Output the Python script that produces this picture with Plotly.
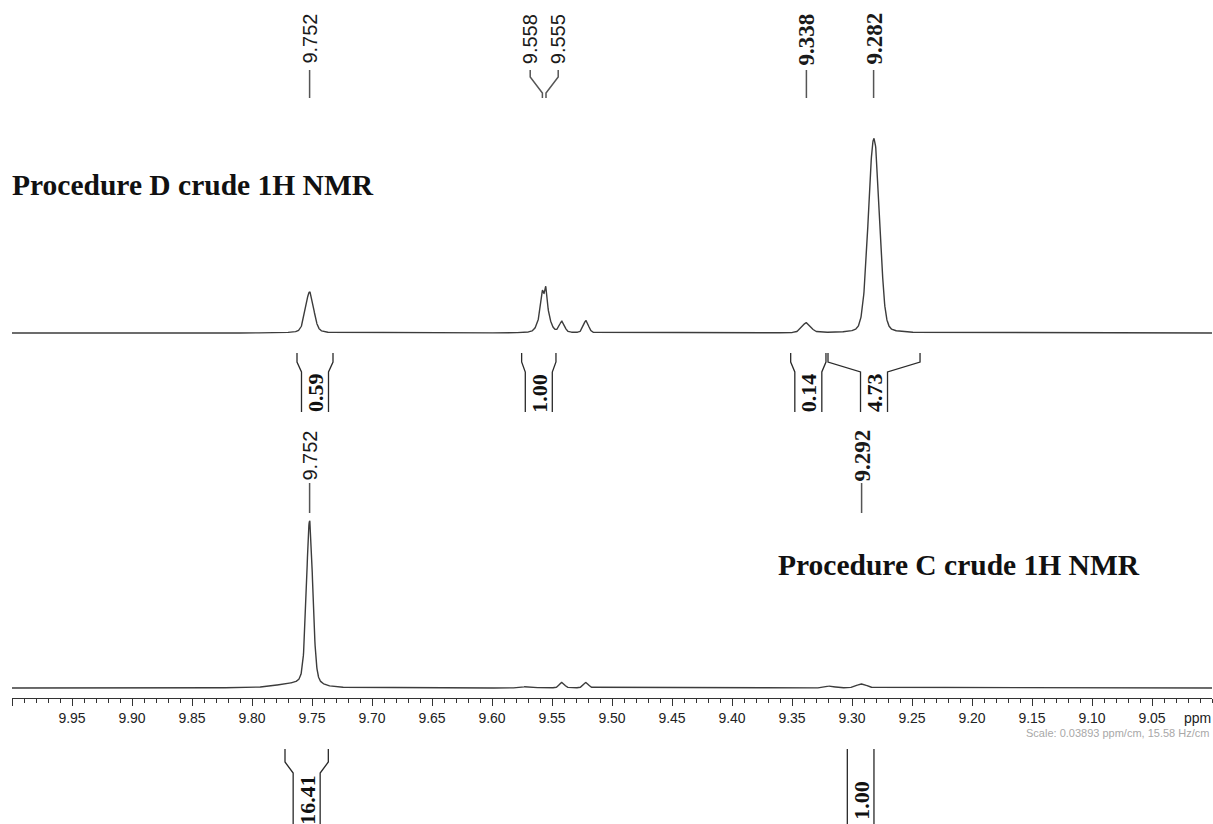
import numpy as np
import plotly.graph_objects as go

# ---------------- data ----------------
PPM_LEFT, PPM_RIGHT = 10.00, 9.00

# Procedure D (top) peak table: shift (ppm), height (intensity units), FWHM (ppm), lorentz fraction
d_shift = [9.752, 9.5565, 9.558, 9.555, 9.5417, 9.5217, 9.338, 9.282, 9.2775]
d_height = [41, 33, 11.8, 16.0, 11, 12, 10, 191, 22]
d_fwhm = [0.0080, 0.0085, 0.0020, 0.0020, 0.0050, 0.0050, 0.0085, 0.0105, 0.0050]
d_eta = [0.3, 0.3, 0.3, 0.3, 0.3, 0.3, 0.3, 0.15, 0.2]

# Procedure C (bottom) peak table
c_shift = [9.752, 9.770, 9.570, 9.5417, 9.5217, 9.318, 9.292]
c_height = [166, 3, 1.5, 5.5, 5.5, 2.0, 4.0]
c_fwhm = [0.0062, 0.030, 0.010, 0.005, 0.005, 0.008, 0.010]
c_eta = [0.35, 0.3, 0.3, 0.3, 0.3, 0.3, 0.3]

# Peak picking labels
d_pick = [9.752, 9.558, 9.555, 9.338, 9.282]
d_pick_font = ["sans", "sans", "sans", "serif", "serif"]
c_pick = [9.752, 9.292]
c_pick_font = ["sans", "serif"]

# Integrals: (from ppm, to ppm, value)
d_int_from = [9.7625, 9.5753, 9.3511, 9.3200]
d_int_to = [9.7325, 9.5467, 9.3217, 9.2433]
d_int_val = ["0.59", "1.00", "0.14", "4.73"]
c_int_from = [9.7725, 9.3039]
c_int_to = [9.7364, 9.2817]
c_int_val = ["16.41", "1.00"]

tick_vals = [10.00, 9.95, 9.90, 9.85, 9.80, 9.75, 9.70, 9.65, 9.60, 9.55, 9.50,
             9.45, 9.40, 9.35, 9.30, 9.25, 9.20, 9.15, 9.10, 9.05]
tick_text = [""] + ["%.2f" % v for v in tick_vals[1:]]

# ---------------- layout constants ----------------
W, H = 1213, 824
PLOT_L, PLOT_R = 12, 1
PX_PER_PPM = (W - PLOT_L - PLOT_R) / (PPM_LEFT - PPM_RIGHT)
TOP_BASE, BOT_BASE = 333, 688
AXIS_Y = 698
SANS = "Liberation Sans, Arial, sans-serif"
SERIF = "Liberation Serif, Times New Roman, serif"
LINE_COL = "#3c3c3c"


def px2paper(px):
    return (px - PLOT_L) / (W - PLOT_L - PLOT_R)


def spectrum(x, shifts, heights, fwhms, etas):
    y = np.zeros_like(x)
    for s, h, w, e in zip(shifts, heights, fwhms, etas):
        d = (x - s) / w
        g = np.exp(-4 * np.log(2) * d ** 2)
        l = 1.0 / (1.0 + 4 * d ** 2)
        y += h * (e * l + (1 - e) * g)
    return y


x = np.linspace(PPM_RIGHT, PPM_LEFT, 5001)
y_top = TOP_BASE - spectrum(x, d_shift, d_height, d_fwhm, d_eta)
y_bot = BOT_BASE - spectrum(x, c_shift, c_height, c_fwhm, c_eta)

fig = go.Figure()
fig.add_trace(go.Scatter(x=x, y=y_top, mode="lines",
                         line=dict(color=LINE_COL, width=1.4), hoverinfo="skip"))
fig.add_trace(go.Scatter(x=x, y=y_bot, mode="lines",
                         line=dict(color=LINE_COL, width=1.4), hoverinfo="skip"))

shapes = []
annotations = []


def add_picks(picks, fonts, text_y, line_top, line_bot):
    min_sep = 28 / PX_PER_PPM
    groups = []
    for p in sorted(picks, reverse=True):
        if groups and groups[-1][-1] - p < min_sep:
            groups[-1].append(p)
        else:
            groups.append([p])
    for g in groups:
        n = len(g)
        mid = sum(g) / n
        for i, p in enumerate(g):
            lx = mid + (((n - 1) / 2) - i) * min_sep
            f = fonts[picks.index(p)]
            if f == "sans":
                fnt = dict(family=SANS, size=20, color="#1a1a1a")
                txt = "%.3f" % p
            else:
                fnt = dict(family=SERIF, size=23, color="#1a1a1a")
                txt = "<b>%.3f</b>" % p
            annotations.append(dict(x=lx, y=text_y, xref="x", yref="y", text=txt,
                                    textangle=-90, showarrow=False, font=fnt,
                                    xanchor="center", yanchor="middle"))
            if n == 1:
                path = "M %f,%f L %f,%f" % (p, line_top, p, line_bot)
            else:
                path = "M %f,%f L %f,%f L %f,%f L %f,%f" % (
                    lx, line_top, lx, line_top + 7, p, line_bot - 5, p, line_bot)
            shapes.append(dict(type="path", path=path, xref="x", yref="y",
                               line=dict(color="#555555", width=1.5)))


add_picks(d_pick, d_pick_font, 39, 70, 98)
add_picks(c_pick, c_pick_font, 456, 483, 513)


def add_integrals(froms, tos, vals, ytop, ybend, yslant, ybot, label_y):
    w_in = 13.5 / PX_PER_PPM
    for a, b, v in zip(froms, tos, vals):
        c = (a + b) / 2
        if (a - b) / 2 > w_in + 1.5 / PX_PER_PPM:
            path = ("M %f,%f L %f,%f L %f,%f L %f,%f "
                    "M %f,%f L %f,%f L %f,%f L %f,%f") % (
                a, ytop, a, ybend, c + w_in, yslant, c + w_in, ybot,
                b, ytop, b, ybend, c - w_in, yslant, c - w_in, ybot)
        else:
            path = "M %f,%f L %f,%f M %f,%f L %f,%f" % (a, ytop, a, ybot, b, ytop, b, ybot)
        shapes.append(dict(type="path", path=path, xref="x", yref="y",
                           line=dict(color="#2a2a2a", width=1.3)))
        annotations.append(dict(x=c, y=label_y, xref="x", yref="y", text="<b>%s</b>" % v,
                                textangle=-90, showarrow=False,
                                font=dict(family=SERIF, size=22, color="#111111"),
                                xanchor="center", yanchor="middle"))


add_integrals(d_int_from, d_int_to, d_int_val, 353, 362, 372, 412, 393)
add_integrals(c_int_from, c_int_to, c_int_val, 749, 762, 773, 840, 800)

annotations.append(dict(x=px2paper(10), y=185, xref="paper", yref="y",
                        text="<b>Procedure D crude 1H NMR</b>", showarrow=False,
                        xanchor="left", yanchor="middle",
                        font=dict(family=SERIF, size=29.5, color="#111111")))
annotations.append(dict(x=px2paper(776), y=565, xref="paper", yref="y",
                        text="<b>Procedure C crude 1H NMR</b>", showarrow=False,
                        xanchor="left", yanchor="middle",
                        font=dict(family=SERIF, size=29.5, color="#111111")))
annotations.append(dict(x=px2paper(1197), y=718, xref="paper", yref="y",
                        text="ppm", showarrow=False, xanchor="center", yanchor="middle",
                        font=dict(family=SANS, size=14, color="#222222")))
annotations.append(dict(x=px2paper(1211), y=733, xref="paper", yref="y",
                        text="Scale: 0.03893 ppm/cm, 15.58 Hz/cm", showarrow=False,
                        xanchor="right", yanchor="middle",
                        font=dict(family=SANS, size=11, color="#a8a8a8")))

fig.update_layout(
    width=W, height=H, autosize=False,
    margin=dict(l=PLOT_L, r=PLOT_R, t=0, b=0, pad=0),
    paper_bgcolor="white", plot_bgcolor="white",
    showlegend=False,
    shapes=shapes, annotations=annotations,
    xaxis=dict(range=[PPM_LEFT, PPM_RIGHT], anchor="free", position=1 - AXIS_Y / H,
               showline=True, linecolor="#333333", linewidth=1,
               ticks="outside", ticklen=7, tickwidth=1, tickcolor="#333333",
               tickmode="array", tickvals=tick_vals, ticktext=tick_text,
               tickfont=dict(family=SANS, size=14, color="#222222"),
               minor=dict(tickmode="linear", tick0=9.0, dtick=0.01, ticks="outside",
                          ticklen=4, tickcolor="#333333", showgrid=False),
               showgrid=False, zeroline=False, fixedrange=True),
    yaxis=dict(range=[H, 0], visible=False, showgrid=False, zeroline=False, fixedrange=True),
)

fig.write_html("out.html", config={"displayModeBar": False},
               post_script="document.body.style.margin='0';document.body.style.overflow='hidden';")
